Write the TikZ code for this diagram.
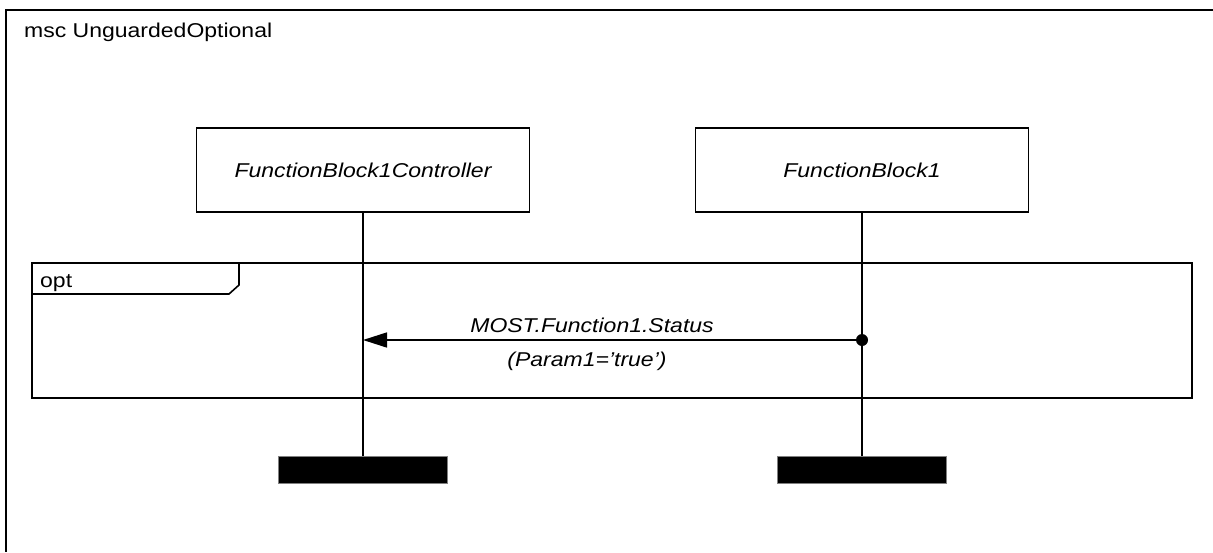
\documentclass[tikz,border=0pt]{standalone}
\usepackage{fontspec}
\setmainfont[FakeStretch=1.15]{Liberation Sans}
\usetikzlibrary{arrows.meta}
\tikzset{
  inst/.style={draw,line width=1.6pt,minimum width=333pt,minimum height=84pt,font=\fontsize{20}{24}\selectfont\itshape},
  stopbar/.style={fill=black,draw=gray,line width=0.8pt,minimum width=169pt,minimum height=27pt,inner sep=0pt},
  life/.style={line width=1.6pt},
  lbl/.style={font=\fontsize{20}{24}\selectfont,inner sep=0pt}
}
\begin{document}
\begin{tikzpicture}[x=1pt,y=-1pt]
    \useasboundingbox (0,0) rectangle (1213,552);
    % frame
    \draw[line width=2.2pt] (1213,10) -- (6,10) -- (6,552);
    \node[lbl,anchor=base west] (title) at (24,37) {msc UnguardedOptional};
    % instances
    \node[inst] (ctrl) at (363,170) {FunctionBlock1Controller};
    \node[inst] (fb) at (862,170) {FunctionBlock1};
    \node[stopbar] (ctrlend) at (363,469.5) {};
    \node[stopbar] (fbend) at (862,469.5) {};
    \draw[life] (ctrl.south) -- (ctrlend.north);
    \draw[life] (fb.south) -- (fbend.north);
    % opt region
    \draw[line width=1.6pt] (32,263) rectangle (1192,398);
    \draw[line width=1.6pt] (32,294) -- (229,294) -- (239,285) -- (239,263);
    \node[lbl,anchor=base west] (optlbl) at (40,287) {opt};
    % message
    \coordinate (send) at (862,340); \coordinate (recv) at (363,340);
    \draw[line width=1.6pt,-{Triangle[length=24pt,width=15pt]}] (send) -- (recv);
    \fill (send) circle (6);
    \node[lbl,anchor=base] (msg) at (592,332) {\itshape MOST.Function1.Status};
    \node[lbl,anchor=base] (par) at (587,366) {\itshape (Param1='true')};
  \end{tikzpicture}
\end{document}
